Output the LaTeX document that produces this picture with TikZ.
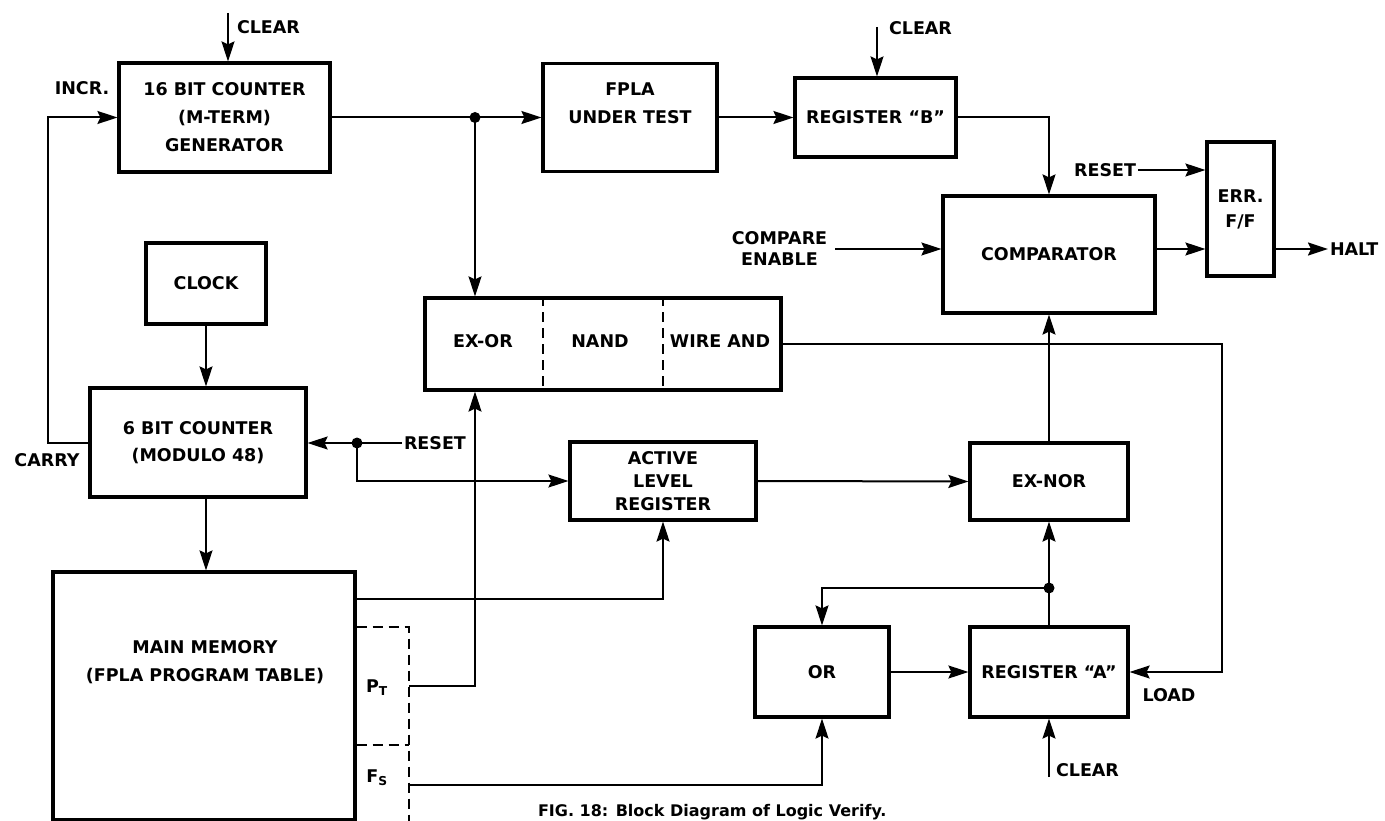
\documentclass[tikz,border=0pt]{standalone}
\usepackage{fontspec}
\setmainfont{DejaVu Sans}
\usetikzlibrary{arrows.meta,calc}
\tikzset{blk/.style={draw,line width=3.2pt,inner sep=1pt,align=center}}
\tikzset{tag/.style={inner sep=1pt,align=center}}
\tikzset{arr/.style={-{Stealth[length=20pt,width=13pt,inset=3pt]}}}
\tikzset{dsh/.style={line width=2.2pt,dash pattern=on 10pt off 6pt}}

\begin{document}
\begin{tikzpicture}[x=1pt,y=-1pt,line width=2pt, every node/.style={font=\bfseries\fontsize{17.5}{28}\selectfont}]
        \useasboundingbox (0,0) rectangle (1385,821);
        %Blocks
        \node[blk,minimum width=211pt,minimum height=109pt] (cnt16) at (224.5,117.5) {16 BIT COUNTER\\(M-TERM)\\GENERATOR};
        \node[blk,minimum width=174pt,minimum height=108pt] (fpla) at (630,117.5) {FPLA\\UNDER TEST\\~};
        \node[blk,minimum width=161pt,minimum height=79pt] (regB) at (875.5,117.5) {REGISTER ``B''};
        \node[blk,minimum width=212pt,minimum height=117pt] (comp) at (1049,254.5) {COMPARATOR};
        \node[blk,minimum width=67pt,minimum height=134pt,font=\bfseries\fontsize{17.5}{25}\selectfont] (errff) at (1240.5,209) {ERR.\\F/F};
        \node[blk,minimum width=120pt,minimum height=81pt] (clock) at (206,283.5) {CLOCK};
        \node[blk,minimum width=216pt,minimum height=109pt,font=\bfseries\fontsize{17.5}{27}\selectfont] (cnt6) at (198,442.5) {6 BIT COUNTER\\(MODULO 48)};
        \node[blk,minimum width=356pt,minimum height=92pt] (gates) at (603,344) {};
        \node[blk,minimum width=186pt,minimum height=78pt,font=\bfseries\fontsize{17.5}{23}\selectfont] (alr) at (663,481) {ACTIVE\\LEVEL\\REGISTER};
        \node[blk,minimum width=158pt,minimum height=77pt] (exnor) at (1049,481.5) {EX-NOR};
        \node[blk,minimum width=134pt,minimum height=90pt] (or) at (822,672) {OR};
        \node[blk,minimum width=158pt,minimum height=90pt] (regA) at (1049,672) {REGISTER ``A''};
        \node[blk,minimum width=302pt,minimum height=248pt] (mem) at (204,696) {};
        %Texts inside
        \node[tag] (memtxt) at (205,662) {MAIN MEMORY\\(FPLA PROGRAM TABLE)};
        \node[tag] (exor) at (483,341) {EX-OR};
        \node[tag] (nand) at (600,341) {NAND};
        \node[tag] (wand) at (720,341) {WIRE AND};
        \foreach \f in {1/3,2/3}
            \draw[dsh] ($(gates.north west)!\f!(gates.north east)$) -- ($(gates.south west)!\f!(gates.south east)$);
        %P_T / F_S fields
        \coordinate (dtop) at (409,627);
        \coordinate (dmid) at (409,745);
        \coordinate (dbot) at (409,830);
        \draw[dsh] (dtop -| mem.east) -- (dtop) -- (dbot);
        \draw[dsh] (dmid -| mem.east) -- (dmid);
        \node[tag] (ptlbl) at (377,688) {P\textsubscript{T}};
        \node[tag] (fslbl) at (377,778) {F\textsubscript{S}};
        %Labels
        \node[tag] (incr) at (82,88) {INCR.};
        \node[tag] (carry) at (47,460) {CARRY};
        \node[tag,anchor=west] (clrlbl1) at (235,27) {CLEAR};
        \node[tag,anchor=west] (clrlbl2) at (887,28) {CLEAR};
        \node[tag,font=\bfseries\fontsize{17.5}{21}\selectfont] (cen) at (779.5,249) {COMPARE\\ENABLE};
        \node[tag,anchor=east] (rst2) at (1138,170) {RESET};
        \node[tag,anchor=west] (halt) at (1328,249) {HALT};
        \node[tag,anchor=west] (rst1) at (402,443) {RESET};
        \node[tag] (load) at (1169,695) {LOAD};
        \node[tag,anchor=west] (clrlbl3) at (1054,770) {CLEAR};
        \node[tag,anchor=base west,font=\bfseries\fontsize{16}{18}\selectfont] (caption) at (536,816) {FIG. 18: Block Diagram of Logic Verify.};
        %Junctions
        \coordinate (jn1) at (475,117.5);
        \coordinate (jn2) at (357,443);
        \coordinate (jn3) at (1049,588);
        \foreach \j in {jn1,jn2,jn3} \fill (\j) circle (5.5pt);
        \coordinate (clr1) at (228,13);
        \coordinate (clr2) at (877,27);
        \coordinate (clr3) at (1049,777);
        \coordinate (wa) at (1222,344);
        \coordinate (pt) at (409,686);
        \coordinate (fs) at (409,785);
        %Connectors
        \draw[arr] (clr1) -- (clr1 |- cnt16.north);
        \draw[arr] (cnt6.west) -- ++(-40,0) |- (cnt16.west);
        \draw[arr] (cnt16.east) -- (fpla.west);
        \draw[arr] (jn1) -- (jn1 |- gates.north);
        \draw[arr] (fpla.east) -- (regB.west);
        \draw[arr] (clr2) -- (clr2 |- regB.north);
        \draw[arr] (regB.east) -| (comp.north);
        \draw[arr,shorten <=6pt] (cen.east) -- (cen.east -| comp.west);
        \draw[arr] (rst2.east) -- (rst2.east -| errff.west);
        \draw[arr] (cen.east -| comp.east) -- (cen.east -| errff.west);
        \draw[arr] (halt.west -| errff.east) -- (halt.west);
        \draw[arr] (gates.east) -- (wa) |- (regA.east);
        \draw[arr] (clock.south) -- (clock.south |- cnt6.north);
        \draw[arr] (rst1.west) -- (jn2 -| cnt6.east);
        \draw[arr] (jn2) |- (alr.west);
        \draw[arr] (cnt6.south -| clock.south) -- (clock.south |- mem.north);
        \draw[arr] ($(mem.north east)+(0,29)$) -| (alr.south);
        \draw[arr] (pt) -| (jn1 |- gates.south);
        \draw[arr] (fs) -| (or.south);
        \draw[arr] (alr.east) -- (exnor.west);
        \draw[arr] (exnor.north) -- (comp.south);
        \draw (regA.north) -- (jn3);
        \draw[arr] (jn3) -- (exnor.south);
        \draw[arr] (jn3) -| (or.north);
        \draw[arr] (or.east) -- (regA.west);
        \draw[arr] (clr3) -- (regA.south);
\end{tikzpicture}
\end{document}
